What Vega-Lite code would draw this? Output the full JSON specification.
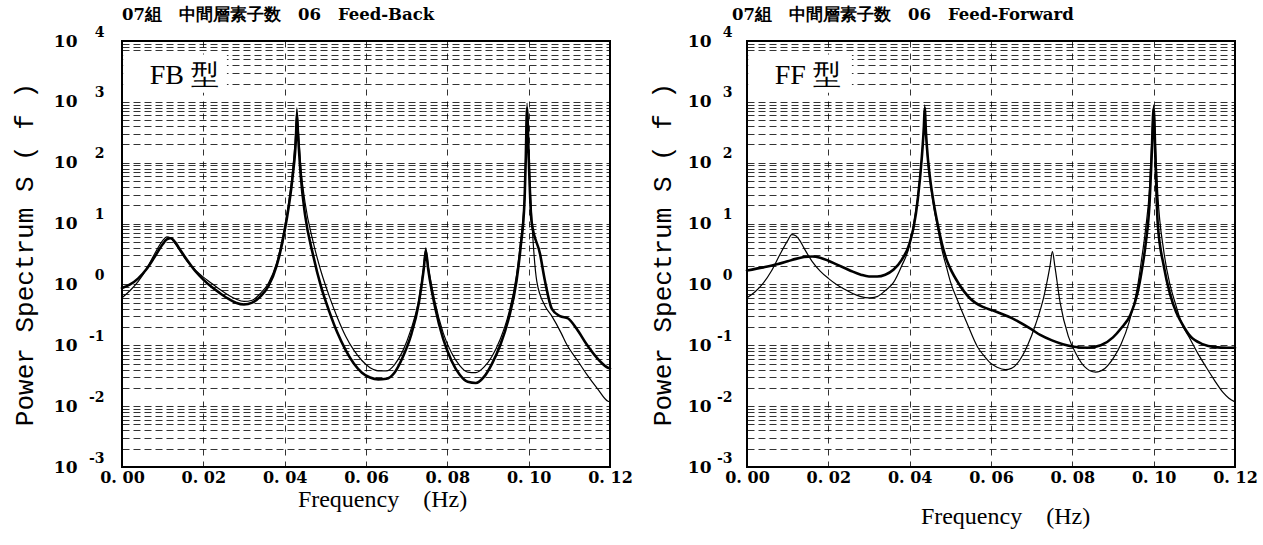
{
"$schema":"https://vega.github.io/schema/vega-lite/v6.json",
"background":"white",
"padding":{"left":10,"top":5,"right":0,"bottom":0},
"spacing":14,
"datasets":{
"fb":[
{"f":0,"logS":-0.22,"curve":"thin"},{"f":0.002,"logS":-0.1,"curve":"thin"},{"f":0.004,"logS":0.05,"curve":"thin"},{"f":0.006,"logS":0.25,"curve":"thin"},{"f":0.008,"logS":0.5,"curve":"thin"},{"f":0.01,"logS":0.72,"curve":"thin"},{"f":0.011,"logS":0.78,"curve":"thin"},{"f":0.012,"logS":0.76,"curve":"thin"},{"f":0.013,"logS":0.68,"curve":"thin"},{"f":0.014,"logS":0.58,"curve":"thin"},{"f":0.016,"logS":0.38,"curve":"thin"},{"f":0.018,"logS":0.24,"curve":"thin"},{"f":0.02,"logS":0.12,"curve":"thin"},{"f":0.022,"logS":0.02,"curve":"thin"},{"f":0.024,"logS":-0.08,"curve":"thin"},{"f":0.026,"logS":-0.17,"curve":"thin"},{"f":0.028,"logS":-0.24,"curve":"thin"},{"f":0.03,"logS":-0.28,"curve":"thin"},{"f":0.032,"logS":-0.26,"curve":"thin"},{"f":0.034,"logS":-0.15,"curve":"thin"},{"f":0.036,"logS":0.02,"curve":"thin"},{"f":0.038,"logS":0.35,"curve":"thin"},{"f":0.04,"logS":0.95,"curve":"thin"},{"f":0.041,"logS":1.35,"curve":"thin"},{"f":0.042,"logS":1.9,"curve":"thin"},{"f":0.0428,"logS":2.6,"curve":"thin"},{"f":0.043,"logS":2.9,"curve":"thin"},{"f":0.0433,"logS":2.6,"curve":"thin"},{"f":0.044,"logS":1.9,"curve":"thin"},{"f":0.045,"logS":1.35,"curve":"thin"},{"f":0.047,"logS":0.7,"curve":"thin"},{"f":0.049,"logS":0.2,"curve":"thin"},{"f":0.051,"logS":-0.2,"curve":"thin"},{"f":0.053,"logS":-0.55,"curve":"thin"},{"f":0.055,"logS":-0.85,"curve":"thin"},{"f":0.057,"logS":-1.08,"curve":"thin"},{"f":0.059,"logS":-1.25,"curve":"thin"},{"f":0.061,"logS":-1.37,"curve":"thin"},{"f":0.063,"logS":-1.42,"curve":"thin"},{"f":0.065,"logS":-1.42,"curve":"thin"},{"f":0.067,"logS":-1.32,"curve":"thin"},{"f":0.069,"logS":-1.1,"curve":"thin"},{"f":0.071,"logS":-0.75,"curve":"thin"},{"f":0.073,"logS":-0.25,"curve":"thin"},{"f":0.0742,"logS":0.3,"curve":"thin"},{"f":0.0747,"logS":0.6,"curve":"thin"},{"f":0.0753,"logS":0.3,"curve":"thin"},{"f":0.077,"logS":-0.3,"curve":"thin"},{"f":0.079,"logS":-0.8,"curve":"thin"},{"f":0.081,"logS":-1.12,"curve":"thin"},{"f":0.083,"logS":-1.33,"curve":"thin"},{"f":0.085,"logS":-1.44,"curve":"thin"},{"f":0.087,"logS":-1.45,"curve":"thin"},{"f":0.089,"logS":-1.36,"curve":"thin"},{"f":0.091,"logS":-1.18,"curve":"thin"},{"f":0.093,"logS":-0.9,"curve":"thin"},{"f":0.095,"logS":-0.5,"curve":"thin"},{"f":0.097,"logS":0.15,"curve":"thin"},{"f":0.098,"logS":0.7,"curve":"thin"},{"f":0.099,"logS":1.5,"curve":"thin"},{"f":0.0993,"logS":2.2,"curve":"thin"},{"f":0.0996,"logS":2.98,"curve":"thin"},{"f":0.1,"logS":2.2,"curve":"thin"},{"f":0.1005,"logS":1.4,"curve":"thin"},{"f":0.101,"logS":0.8,"curve":"thin"},{"f":0.102,"logS":0.05,"curve":"thin"},{"f":0.104,"logS":-0.35,"curve":"thin"},{"f":0.1057,"logS":-0.52,"curve":"thin"},{"f":0.108,"logS":-0.8,"curve":"thin"},{"f":0.1093,"logS":-0.98,"curve":"thin"},{"f":0.112,"logS":-1.25,"curve":"thin"},{"f":0.1142,"logS":-1.47,"curve":"thin"},{"f":0.117,"logS":-1.72,"curve":"thin"},{"f":0.1195,"logS":-1.92,"curve":"thin"},{"f":0.12,"logS":-1.93,"curve":"thin"},
{"f":0,"logS":-0.06,"curve":"thick"},{"f":0.002,"logS":0.0,"curve":"thick"},{"f":0.004,"logS":0.1,"curve":"thick"},{"f":0.006,"logS":0.25,"curve":"thick"},{"f":0.008,"logS":0.45,"curve":"thick"},{"f":0.01,"logS":0.66,"curve":"thick"},{"f":0.011,"logS":0.74,"curve":"thick"},{"f":0.012,"logS":0.76,"curve":"thick"},{"f":0.013,"logS":0.7,"curve":"thick"},{"f":0.014,"logS":0.6,"curve":"thick"},{"f":0.016,"logS":0.4,"curve":"thick"},{"f":0.018,"logS":0.22,"curve":"thick"},{"f":0.02,"logS":0.08,"curve":"thick"},{"f":0.022,"logS":-0.04,"curve":"thick"},{"f":0.024,"logS":-0.14,"curve":"thick"},{"f":0.026,"logS":-0.23,"curve":"thick"},{"f":0.028,"logS":-0.3,"curve":"thick"},{"f":0.03,"logS":-0.33,"curve":"thick"},{"f":0.032,"logS":-0.3,"curve":"thick"},{"f":0.034,"logS":-0.2,"curve":"thick"},{"f":0.036,"logS":-0.03,"curve":"thick"},{"f":0.038,"logS":0.3,"curve":"thick"},{"f":0.04,"logS":0.88,"curve":"thick"},{"f":0.041,"logS":1.28,"curve":"thick"},{"f":0.042,"logS":1.8,"curve":"thick"},{"f":0.0428,"logS":2.45,"curve":"thick"},{"f":0.043,"logS":2.8,"curve":"thick"},{"f":0.0433,"logS":2.45,"curve":"thick"},{"f":0.044,"logS":1.75,"curve":"thick"},{"f":0.045,"logS":1.15,"curve":"thick"},{"f":0.047,"logS":0.48,"curve":"thick"},{"f":0.049,"logS":-0.05,"curve":"thick"},{"f":0.051,"logS":-0.45,"curve":"thick"},{"f":0.053,"logS":-0.8,"curve":"thick"},{"f":0.055,"logS":-1.08,"curve":"thick"},{"f":0.057,"logS":-1.3,"curve":"thick"},{"f":0.059,"logS":-1.45,"curve":"thick"},{"f":0.061,"logS":-1.53,"curve":"thick"},{"f":0.063,"logS":-1.56,"curve":"thick"},{"f":0.065,"logS":-1.55,"curve":"thick"},{"f":0.067,"logS":-1.45,"curve":"thick"},{"f":0.069,"logS":-1.2,"curve":"thick"},{"f":0.071,"logS":-0.85,"curve":"thick"},{"f":0.073,"logS":-0.3,"curve":"thick"},{"f":0.0742,"logS":0.25,"curve":"thick"},{"f":0.0747,"logS":0.55,"curve":"thick"},{"f":0.0753,"logS":0.25,"curve":"thick"},{"f":0.077,"logS":-0.38,"curve":"thick"},{"f":0.079,"logS":-0.9,"curve":"thick"},{"f":0.081,"logS":-1.25,"curve":"thick"},{"f":0.083,"logS":-1.48,"curve":"thick"},{"f":0.085,"logS":-1.6,"curve":"thick"},{"f":0.087,"logS":-1.62,"curve":"thick"},{"f":0.089,"logS":-1.52,"curve":"thick"},{"f":0.091,"logS":-1.3,"curve":"thick"},{"f":0.093,"logS":-1.0,"curve":"thick"},{"f":0.095,"logS":-0.58,"curve":"thick"},{"f":0.097,"logS":0.05,"curve":"thick"},{"f":0.098,"logS":0.6,"curve":"thick"},{"f":0.099,"logS":1.4,"curve":"thick"},{"f":0.0993,"logS":2.1,"curve":"thick"},{"f":0.0996,"logS":2.9,"curve":"thick"},{"f":0.1,"logS":2.1,"curve":"thick"},{"f":0.1007,"logS":1.04,"curve":"thick"},{"f":0.1028,"logS":0.5,"curve":"thick"},{"f":0.104,"logS":0.06,"curve":"thick"},{"f":0.1057,"logS":-0.4,"curve":"thick"},{"f":0.1077,"logS":-0.52,"curve":"thick"},{"f":0.1097,"logS":-0.56,"curve":"thick"},{"f":0.1118,"logS":-0.73,"curve":"thick"},{"f":0.1142,"logS":-0.98,"curve":"thick"},{"f":0.1175,"logS":-1.26,"curve":"thick"},{"f":0.1195,"logS":-1.37,"curve":"thick"},{"f":0.12,"logS":-1.38,"curve":"thick"}
],
"ff":[
{"f":0,"logS":-0.22,"curve":"thin"},{"f":0.002,"logS":-0.12,"curve":"thin"},{"f":0.004,"logS":0.02,"curve":"thin"},{"f":0.006,"logS":0.22,"curve":"thin"},{"f":0.008,"logS":0.48,"curve":"thin"},{"f":0.01,"logS":0.72,"curve":"thin"},{"f":0.011,"logS":0.82,"curve":"thin"},{"f":0.012,"logS":0.8,"curve":"thin"},{"f":0.013,"logS":0.72,"curve":"thin"},{"f":0.014,"logS":0.6,"curve":"thin"},{"f":0.016,"logS":0.38,"curve":"thin"},{"f":0.018,"logS":0.22,"curve":"thin"},{"f":0.02,"logS":0.1,"curve":"thin"},{"f":0.022,"logS":0.0,"curve":"thin"},{"f":0.024,"logS":-0.08,"curve":"thin"},{"f":0.026,"logS":-0.15,"curve":"thin"},{"f":0.028,"logS":-0.2,"curve":"thin"},{"f":0.03,"logS":-0.22,"curve":"thin"},{"f":0.032,"logS":-0.2,"curve":"thin"},{"f":0.034,"logS":-0.1,"curve":"thin"},{"f":0.036,"logS":0.03,"curve":"thin"},{"f":0.038,"logS":0.3,"curve":"thin"},{"f":0.04,"logS":0.65,"curve":"thin"},{"f":0.041,"logS":1.0,"curve":"thin"},{"f":0.042,"logS":1.45,"curve":"thin"},{"f":0.043,"logS":2.1,"curve":"thin"},{"f":0.0435,"logS":2.6,"curve":"thin"},{"f":0.0437,"logS":2.95,"curve":"thin"},{"f":0.044,"logS":2.5,"curve":"thin"},{"f":0.0445,"logS":2.0,"curve":"thin"},{"f":0.045,"logS":1.7,"curve":"thin"},{"f":0.046,"logS":1.25,"curve":"thin"},{"f":0.047,"logS":0.9,"curve":"thin"},{"f":0.048,"logS":0.55,"curve":"thin"},{"f":0.049,"logS":0.3,"curve":"thin"},{"f":0.05,"logS":0.05,"curve":"thin"},{"f":0.052,"logS":-0.3,"curve":"thin"},{"f":0.054,"logS":-0.62,"curve":"thin"},{"f":0.0568,"logS":-1.04,"curve":"thin"},{"f":0.058,"logS":-1.15,"curve":"thin"},{"f":0.06,"logS":-1.3,"curve":"thin"},{"f":0.0615,"logS":-1.36,"curve":"thin"},{"f":0.0635,"logS":-1.4,"curve":"thin"},{"f":0.065,"logS":-1.38,"curve":"thin"},{"f":0.067,"logS":-1.25,"curve":"thin"},{"f":0.069,"logS":-1.0,"curve":"thin"},{"f":0.071,"logS":-0.65,"curve":"thin"},{"f":0.073,"logS":-0.2,"curve":"thin"},{"f":0.0745,"logS":0.3,"curve":"thin"},{"f":0.0751,"logS":0.54,"curve":"thin"},{"f":0.0757,"logS":0.3,"curve":"thin"},{"f":0.077,"logS":-0.3,"curve":"thin"},{"f":0.079,"logS":-0.85,"curve":"thin"},{"f":0.081,"logS":-1.15,"curve":"thin"},{"f":0.083,"logS":-1.35,"curve":"thin"},{"f":0.0857,"logS":-1.44,"curve":"thin"},{"f":0.088,"logS":-1.38,"curve":"thin"},{"f":0.09,"logS":-1.22,"curve":"thin"},{"f":0.092,"logS":-0.98,"curve":"thin"},{"f":0.094,"logS":-0.61,"curve":"thin"},{"f":0.096,"logS":-0.05,"curve":"thin"},{"f":0.097,"logS":0.4,"curve":"thin"},{"f":0.098,"logS":0.9,"curve":"thin"},{"f":0.099,"logS":1.6,"curve":"thin"},{"f":0.0995,"logS":2.3,"curve":"thin"},{"f":0.1,"logS":2.95,"curve":"thin"},{"f":0.1005,"logS":2.2,"curve":"thin"},{"f":0.101,"logS":1.5,"curve":"thin"},{"f":0.1025,"logS":0.54,"curve":"thin"},{"f":0.104,"logS":0.0,"curve":"thin"},{"f":0.1055,"logS":-0.35,"curve":"thin"},{"f":0.1067,"logS":-0.61,"curve":"thin"},{"f":0.109,"logS":-0.9,"curve":"thin"},{"f":0.111,"logS":-1.15,"curve":"thin"},{"f":0.113,"logS":-1.37,"curve":"thin"},{"f":0.115,"logS":-1.58,"curve":"thin"},{"f":0.117,"logS":-1.77,"curve":"thin"},{"f":0.1185,"logS":-1.87,"curve":"thin"},{"f":0.12,"logS":-1.93,"curve":"thin"},
{"f":0,"logS":0.23,"curve":"thick"},{"f":0.004,"logS":0.28,"curve":"thick"},{"f":0.0074,"logS":0.33,"curve":"thick"},{"f":0.01,"logS":0.38,"curve":"thick"},{"f":0.012,"logS":0.42,"curve":"thick"},{"f":0.014,"logS":0.45,"curve":"thick"},{"f":0.016,"logS":0.46,"curve":"thick"},{"f":0.018,"logS":0.44,"curve":"thick"},{"f":0.02,"logS":0.39,"curve":"thick"},{"f":0.022,"logS":0.33,"curve":"thick"},{"f":0.024,"logS":0.27,"curve":"thick"},{"f":0.026,"logS":0.21,"curve":"thick"},{"f":0.028,"logS":0.16,"curve":"thick"},{"f":0.03,"logS":0.13,"curve":"thick"},{"f":0.032,"logS":0.13,"curve":"thick"},{"f":0.034,"logS":0.16,"curve":"thick"},{"f":0.036,"logS":0.24,"curve":"thick"},{"f":0.038,"logS":0.4,"curve":"thick"},{"f":0.04,"logS":0.68,"curve":"thick"},{"f":0.041,"logS":0.95,"curve":"thick"},{"f":0.042,"logS":1.4,"curve":"thick"},{"f":0.043,"logS":2.1,"curve":"thick"},{"f":0.0435,"logS":2.6,"curve":"thick"},{"f":0.0437,"logS":2.9,"curve":"thick"},{"f":0.044,"logS":2.5,"curve":"thick"},{"f":0.0445,"logS":2.05,"curve":"thick"},{"f":0.045,"logS":1.75,"curve":"thick"},{"f":0.046,"logS":1.3,"curve":"thick"},{"f":0.047,"logS":0.95,"curve":"thick"},{"f":0.048,"logS":0.65,"curve":"thick"},{"f":0.049,"logS":0.42,"curve":"thick"},{"f":0.05,"logS":0.26,"curve":"thick"},{"f":0.052,"logS":0.02,"curve":"thick"},{"f":0.055,"logS":-0.24,"curve":"thick"},{"f":0.058,"logS":-0.37,"curve":"thick"},{"f":0.061,"logS":-0.44,"curve":"thick"},{"f":0.065,"logS":-0.55,"curve":"thick"},{"f":0.07,"logS":-0.74,"curve":"thick"},{"f":0.0721,"logS":-0.83,"curve":"thick"},{"f":0.075,"logS":-0.92,"curve":"thick"},{"f":0.08,"logS":-1.02,"curve":"thick"},{"f":0.0837,"logS":-1.04,"curve":"thick"},{"f":0.087,"logS":-1.0,"curve":"thick"},{"f":0.09,"logS":-0.87,"curve":"thick"},{"f":0.092,"logS":-0.72,"curve":"thick"},{"f":0.0943,"logS":-0.5,"curve":"thick"},{"f":0.096,"logS":-0.15,"curve":"thick"},{"f":0.097,"logS":0.2,"curve":"thick"},{"f":0.098,"logS":0.65,"curve":"thick"},{"f":0.099,"logS":1.35,"curve":"thick"},{"f":0.0995,"logS":2.1,"curve":"thick"},{"f":0.1,"logS":2.9,"curve":"thick"},{"f":0.1005,"logS":1.9,"curve":"thick"},{"f":0.101,"logS":1.0,"curve":"thick"},{"f":0.1025,"logS":0.3,"curve":"thick"},{"f":0.104,"logS":-0.15,"curve":"thick"},{"f":0.1055,"logS":-0.45,"curve":"thick"},{"f":0.1067,"logS":-0.61,"curve":"thick"},{"f":0.109,"logS":-0.85,"curve":"thick"},{"f":0.112,"logS":-0.98,"curve":"thick"},{"f":0.115,"logS":-1.03,"curve":"thick"},{"f":0.118,"logS":-1.04,"curve":"thick"},{"f":0.12,"logS":-1.04,"curve":"thick"}
]
},
"hconcat":[
{
"width":488,"height":426,
"title":{"text":"07組　中間層素子数　06　Feed-Back","anchor":"start","frame":"group","font":"DejaVu Serif","fontSize":16.5,"fontWeight":"bold","offset":2,"color":"black"},
"layer":[
{"data":{"name":"fb"},
"mark":{"type":"line","interpolate":"monotone","color":"black","strokeJoin":"round","strokeCap":"round"},
"encoding":{
"x":{"field":"f","type":"quantitative","scale":{"domain":[0,0.12],"nice":false,"zero":false},"title":"Frequency　(Hz)",
"axis":{"values":[0,0.02,0.04,0.06,0.08,0.1,0.12],"labelExpr":"replace(format(datum.value,'.2f'),'.','. ')","labelFlush":false,"titlePadding":2,"titleX":260}},
"y":{"field":"logS","type":"quantitative","scale":{"domain":[-3,4],"nice":false,"zero":false},"title":null,
"axis":{"orient":"left","grid":true,"gridDash":[7,4],"values":[-3,-2.69897,-2.52288,-2.39794,-2.30103,-2.22185,-2.1549,-2.09691,-2.04576,-2,-1.69897,-1.52288,-1.39794,-1.30103,-1.22185,-1.1549,-1.09691,-1.04576,-1,-0.69897,-0.52288,-0.39794,-0.30103,-0.22185,-0.1549,-0.09691,-0.04576,0,0.30103,0.47712,0.60206,0.69897,0.77815,0.8451,0.90309,0.95424,1,1.30103,1.47712,1.60206,1.69897,1.77815,1.8451,1.90309,1.95424,2,2.30103,2.47712,2.60206,2.69897,2.77815,2.8451,2.90309,2.95424,3,3.30103,3.47712,3.60206,3.69897,3.77815,3.8451,3.90309,3.95424,4],
"labelExpr":"abs(datum.value-round(datum.value))<0.001 ? ''+round(datum.value) : ''","labelOffset":-9,"labelPadding":18,"labelFontSize":14}},
"strokeWidth":{"field":"curve","type":"nominal","scale":{"domain":["thick","thin"],"range":[2.6,1.2]},"legend":null}
}},
{"data":{"values":[{}]},
"mark":{"type":"rect","fill":"white"},
"encoding":{
"x":{"datum":0.0003,"type":"quantitative","title":"Frequency　(Hz)"},"x2":{"datum":0.0258},
"y":{"datum":3.15,"type":"quantitative",
"axis":{"orient":"left","grid":false,"values":[-3,-2,-1,0,1,2,3,4],"labelExpr":"'10'","labelPadding":45,"labelFontSize":17,"title":"Power Spectrum  S ( f )","titleFont":"Liberation Mono","titleFontSize":26,"titleFontWeight":"normal","titlePadding":16}},
"y2":{"datum":3.78}
}},
{"data":{"values":[{}]},
"mark":{"type":"text","text":"FB 型","font":"Liberation Serif","fontSize":28,"align":"left","baseline":"middle","color":"black"},
"encoding":{
"x":{"datum":0.0068,"type":"quantitative","title":"Frequency　(Hz)"},
"y":{"datum":3.42,"type":"quantitative","axis":null}
}}
],
"resolve":{"axis":{"y":"independent"}}
},
{
"width":488,"height":426,
"title":{"text":"07組　中間層素子数　06　Feed-Forward","anchor":"start","frame":"group","font":"DejaVu Serif","fontSize":16.5,"fontWeight":"bold","offset":2,"dx":-15,"color":"black"},
"layer":[
{"data":{"name":"ff"},
"mark":{"type":"line","interpolate":"monotone","color":"black","strokeJoin":"round","strokeCap":"round"},
"encoding":{
"x":{"field":"f","type":"quantitative","scale":{"domain":[0,0.12],"nice":false,"zero":false},"title":"Frequency　(Hz)",
"axis":{"values":[0,0.02,0.04,0.06,0.08,0.1,0.12],"labelExpr":"replace(format(datum.value,'.2f'),'.','. ')","labelFlush":false,"titlePadding":19,"titleX":258}},
"y":{"field":"logS","type":"quantitative","scale":{"domain":[-3,4],"nice":false,"zero":false},"title":null,
"axis":{"orient":"left","grid":true,"gridDash":[7,4],"values":[-3,-2.69897,-2.52288,-2.39794,-2.30103,-2.22185,-2.1549,-2.09691,-2.04576,-2,-1.69897,-1.52288,-1.39794,-1.30103,-1.22185,-1.1549,-1.09691,-1.04576,-1,-0.69897,-0.52288,-0.39794,-0.30103,-0.22185,-0.1549,-0.09691,-0.04576,0,0.30103,0.47712,0.60206,0.69897,0.77815,0.8451,0.90309,0.95424,1,1.30103,1.47712,1.60206,1.69897,1.77815,1.8451,1.90309,1.95424,2,2.30103,2.47712,2.60206,2.69897,2.77815,2.8451,2.90309,2.95424,3,3.30103,3.47712,3.60206,3.69897,3.77815,3.8451,3.90309,3.95424,4],
"labelExpr":"abs(datum.value-round(datum.value))<0.001 ? ''+round(datum.value) : ''","labelOffset":-9,"labelPadding":15,"labelFontSize":14}},
"strokeWidth":{"field":"curve","type":"nominal","scale":{"domain":["thick","thin"],"range":[2.6,1.2]},"legend":null}
}},
{"data":{"values":[{}]},
"mark":{"type":"rect","fill":"white"},
"encoding":{
"x":{"datum":0.0003,"type":"quantitative","title":"Frequency　(Hz)"},"x2":{"datum":0.0258},
"y":{"datum":3.15,"type":"quantitative",
"axis":{"orient":"left","grid":false,"values":[-3,-2,-1,0,1,2,3,4],"labelExpr":"'10'","labelPadding":36,"labelFontSize":17,"title":"Power Spectrum  S ( f )","titleFont":"Liberation Mono","titleFontSize":26,"titleFontWeight":"normal","titlePadding":12}},
"y2":{"datum":3.78}
}},
{"data":{"values":[{}]},
"mark":{"type":"text","text":"FF 型","font":"Liberation Serif","fontSize":28,"align":"left","baseline":"middle","color":"black"},
"encoding":{
"x":{"datum":0.0068,"type":"quantitative","title":"Frequency　(Hz)"},
"y":{"datum":3.42,"type":"quantitative","axis":null}
}}
],
"resolve":{"axis":{"y":"independent"}}
}
],
"config":{
"view":{"stroke":"black","strokeWidth":2},
"axis":{"domain":false,"ticks":false,"gridColor":"black","gridWidth":1,"gridOpacity":0.8,"labelColor":"black","titleColor":"black","labelOverlap":false,"labelFont":"DejaVu Serif","labelFontWeight":"bold"},
"axisX":{"grid":true,"gridDash":[6,6],"labelFontSize":16,"labelPadding":2,"titleFont":"Liberation Serif","titleFontSize":24,"titleFontWeight":"normal"}
}
}
